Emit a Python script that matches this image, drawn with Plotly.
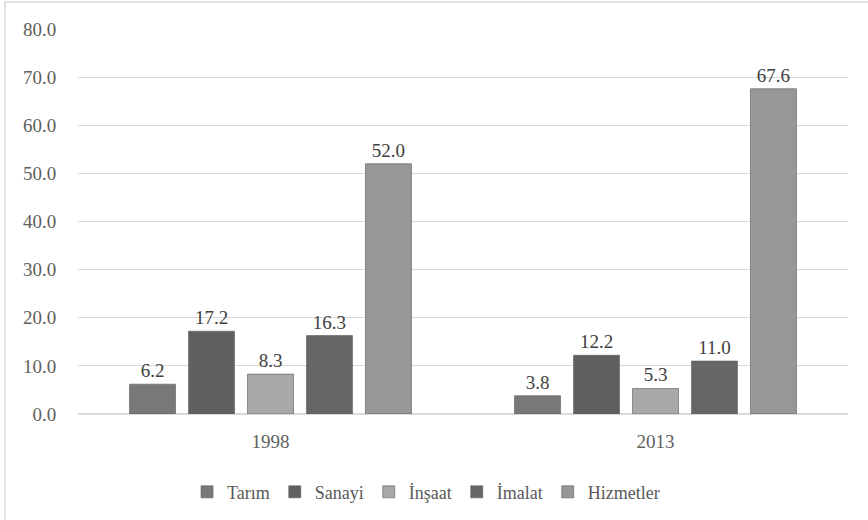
import plotly.graph_objects as go

years = ['1998', '2013']
sectors = ['Tarım', 'Sanayi', 'İnşaat', 'İmalat', 'Hizmetler']
values = {
    'Tarım': [6.2, 3.8],
    'Sanayi': [17.2, 12.2],
    'İnşaat': [8.3, 5.3],
    'İmalat': [16.3, 11.0],
    'Hizmetler': [52.0, 67.6],
}
colors = ['#787878', '#606060', '#a8a8a8', '#666666', '#979797']

font = 'Liberation Serif, Times New Roman, serif'

fig = go.Figure()
for name, col in zip(sectors, colors):
    fig.add_trace(go.Bar(
        x=years,
        y=values[name],
        name=name,
        marker=dict(color=col, line=dict(color='#5a5a5a', width=0.6)),
        texttemplate='%{y:.1f}',
        textposition='outside',
        textfont=dict(family=font, size=19, color='#404040'),
        cliponaxis=False,
    ))

fig.update_layout(
    barmode='group',
    bargap=0.234,
    bargroupgap=0.22,
    width=868,
    height=520,
    margin=dict(l=78, r=20, t=29, b=106, autoexpand=False),
    paper_bgcolor='white',
    plot_bgcolor='white',
    font=dict(family=font, size=19, color='#606060'),
    showlegend=True,
    legend=dict(
        orientation='h',
        x=0.452, xanchor='center',
        y=-0.203, yanchor='middle',
        font=dict(family=font, size=18, color='#595959'),
        itemwidth=30,
        tracegroupgap=0,
    ),
    xaxis=dict(
        automargin=False,
        showgrid=False,
        showline=True,
        linecolor='#d9d9d9',
        ticks='outside',
        ticklen=0,
        ticklabelstandoff=10,
    ),
    yaxis=dict(
        automargin=False,
        range=[0, 80],
        dtick=10,
        tickformat='.1f',
        showgrid=True,
        gridcolor='#d9d9d9',
        zeroline=True,
        zerolinecolor='#d9d9d9',
        ticks='outside',
        ticklen=0,
        ticklabelstandoff=17,
    ),
    shapes=[dict(
        type='rect', xref='paper', yref='paper',
        x0=-0.0948, x1=1.2, y0=-0.5, y1=1.070,
        line=dict(color='#d9d9d9', width=1.5),
        layer='below',
    )],
)

# drop the page's default body margin so the figure sits at the window origin
fig.write_html('out.html', config={'displayModeBar': False},
               post_script="document.body.style.margin='0';")
